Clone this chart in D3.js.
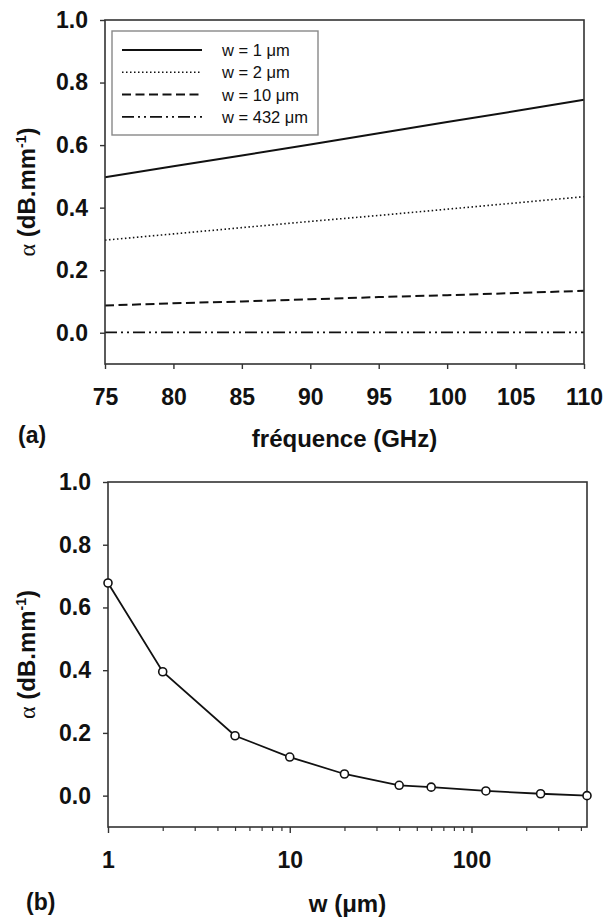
<!DOCTYPE html>
<html><head><meta charset="utf-8">
<script src="https://cdn.jsdelivr.net/npm/d3@7"></script>
<style>body{margin:0;background:#fff}svg{display:block}</style>
</head><body><svg id="c" width="609" height="918"></svg>
<script>
// ---- data ----
const freqs = [75, 80, 85, 90, 95, 100, 105, 110];
const alphaW1 = [0.497, 0.532, 0.567, 0.602, 0.638, 0.674, 0.709, 0.745];
const alphaW2 = [0.296, 0.316, 0.336, 0.356, 0.375, 0.395, 0.415, 0.435];
const alphaW10 = [0.087, 0.094, 0.100, 0.107, 0.114, 0.120, 0.127, 0.134];
const alphaW432 = [0.001, 0.001, 0.001, 0.001, 0.001, 0.001, 0.001, 0.001];
const seriesNames = ["w = 1 \u03bcm", "w = 2 \u03bcm", "w = 10 \u03bcm", "w = 432 \u03bcm"];

const widths = [1, 2, 5, 10, 20, 40, 60, 120, 240, 432];
const alphaVsW = [0.678, 0.395, 0.191, 0.123, 0.069, 0.033, 0.027, 0.015, 0.006, 0.000];

const freqTicks = [75, 80, 85, 90, 95, 100, 105, 110];
const alphaTicks = [0, 0.2, 0.4, 0.6, 0.8, 1.0];
const wLabelTicks = [1, 10, 100];
const wMinorTicks = [2,3,4,5,6,7,8,9,20,30,40,50,60,70,80,90,200,300,400];

// ---- styles ----
const axisColor = "#333";
const sans = "'Liberation Sans', Arial, sans-serif";
const dashes = [null, "1.5,2.5", "9,4.5", "12,4,2,4,2,4"];
const strokeW = [2, 1.6, 2, 1.6];
const tickFont = 23, titleFont = 24;

const svg = d3.select("#c");

function frame(g, x0, x1, y0, y1) {
  g.append("rect").attr("x", x0).attr("y", y0).attr("width", x1 - x0).attr("height", y1 - y0)
    .attr("fill", "none").attr("stroke", axisColor).attr("stroke-width", 1.6);
}

function yAxis(y, x0, labelY) {
  const ax = d3.axisLeft(y).tickValues(alphaTicks).tickFormat(d3.format(".1f")).tickSize(5).tickPadding(12);
  const g = svg.append("g").attr("transform", `translate(${x0},0)`).call(ax);
  g.select(".domain").remove();
  g.selectAll("line").attr("stroke", axisColor).attr("stroke-width", 1.4);
  g.selectAll("text").attr("font-family", sans).attr("font-weight", "bold").attr("font-size", tickFont).attr("fill", "#111");
  const t = svg.append("text").attr("transform", `translate(35,${labelY}) rotate(-90)`)
    .attr("text-anchor", "middle").attr("font-family", sans).attr("font-weight", "bold")
    .attr("font-size", titleFont).attr("fill", "#111");
  t.append("tspan").attr("font-family", "'Liberation Serif','DejaVu Serif',serif").attr("font-weight", "normal").text("\u03b1");
  t.append("tspan").text(" (dB.mm");
  t.append("tspan").attr("font-size", 14).attr("dy", -9).text("-1");
  t.append("tspan").attr("dy", 9).text(")");
}

// ================= panel (a) =================
{
  const L = 105, R = 584, T = 20, B = 364;
  const x = d3.scaleLinear().domain([75, 110]).range([L, R]);
  const y = d3.scaleLinear().domain([-0.1, 1.0]).range([B, T]);

  const series = [alphaW1, alphaW2, alphaW10, alphaW432];
  const line = d3.line().x((d, i) => x(freqs[i])).y(d => y(d));
  series.forEach((s, k) => {
    svg.append("path").datum(s).attr("d", line).attr("fill", "none")
      .attr("stroke", "#111").attr("stroke-width", strokeW[k])
      .attr("stroke-dasharray", dashes[k]);
  });

  frame(svg, L, R, T, B);
  yAxis(y, L, (T + B) / 2);

  const ax = d3.axisBottom(x).tickValues(freqTicks).tickFormat(d3.format("d")).tickSize(5).tickPadding(20);
  const gx = svg.append("g").attr("transform", `translate(0,${B})`).call(ax);
  gx.select(".domain").remove();
  gx.selectAll("line").attr("stroke", axisColor).attr("stroke-width", 1.4);
  gx.selectAll("text").attr("font-family", sans).attr("font-weight", "bold").attr("font-size", tickFont).attr("fill", "#111");

  svg.append("text").attr("x", (L + R) / 2).attr("y", 447).attr("text-anchor", "middle")
    .attr("font-family", sans).attr("font-weight", "bold").attr("font-size", titleFont).attr("fill", "#111")
    .text("fr\u00e9quence (GHz)");
  svg.append("text").attr("x", 18).attr("y", 443)
    .attr("font-family", sans).attr("font-weight", "bold").attr("font-size", 23).attr("fill", "#111")
    .text("(a)");

  // legend
  const lg = svg.append("g");
  lg.append("rect").attr("x", 112).attr("y", 31).attr("width", 206).attr("height", 104)
    .attr("fill", "#fff").attr("stroke", "#888").attr("stroke-width", 1.4);
  seriesNames.forEach((n, k) => {
    const yy = 50 + k * 22.3;
    lg.append("line").attr("x1", 122).attr("x2", 202).attr("y1", yy).attr("y2", yy)
      .attr("stroke", "#111").attr("stroke-width", strokeW[k]).attr("stroke-dasharray", dashes[k]);
    lg.append("text").attr("x", 222).attr("y", yy + 6).attr("font-family", sans)
      .attr("font-size", 16.5).attr("fill", "#111").text(n);
  });
}

// ================= panel (b) =================
{
  const L = 108, R = 587, T = 482, B = 827;
  const x = d3.scaleLog().domain([1, 432]).range([L, R]);
  const y = d3.scaleLinear().domain([-0.1, 1.0]).range([B, T]);

  const line = d3.line().x((d, i) => x(widths[i])).y(d => y(d));
  svg.append("path").datum(alphaVsW).attr("d", line).attr("fill", "none")
    .attr("stroke", "#111").attr("stroke-width", 1.8);

  frame(svg, L, R, T, B);
  yAxis(y, L, (T + B) / 2);

  const axMaj = d3.axisBottom(x).tickValues(wLabelTicks).tickFormat(d3.format("d")).tickSize(6).tickPadding(19);
  const gx = svg.append("g").attr("transform", `translate(0,${B})`).call(axMaj);
  gx.select(".domain").remove();
  gx.selectAll("line").attr("stroke", axisColor).attr("stroke-width", 1.4);
  gx.selectAll("text").attr("font-family", sans).attr("font-weight", "bold").attr("font-size", tickFont).attr("fill", "#111");
  const axMin = d3.axisBottom(x).tickValues(wMinorTicks).tickFormat("").tickSize(4);
  const gm = svg.append("g").attr("transform", `translate(0,${B})`).call(axMin);
  gm.select(".domain").remove();
  gm.selectAll("line").attr("stroke", axisColor).attr("stroke-width", 1.2);

  svg.selectAll("circle.pt").data(alphaVsW).join("circle").attr("class", "pt")
    .attr("cx", (d, i) => x(widths[i])).attr("cy", d => y(d)).attr("r", 4)
    .attr("fill", "#fff").attr("stroke", "#111").attr("stroke-width", 1.6);

  svg.append("text").attr("x", (L + R) / 2).attr("y", 912).attr("text-anchor", "middle")
    .attr("font-family", sans).attr("font-weight", "bold").attr("font-size", titleFont).attr("fill", "#111")
    .text("w (\u03bcm)");
  svg.append("text").attr("x", 26).attr("y", 910)
    .attr("font-family", sans).attr("font-weight", "bold").attr("font-size", 23).attr("fill", "#111")
    .text("(b)");
}
</script></body></html>
